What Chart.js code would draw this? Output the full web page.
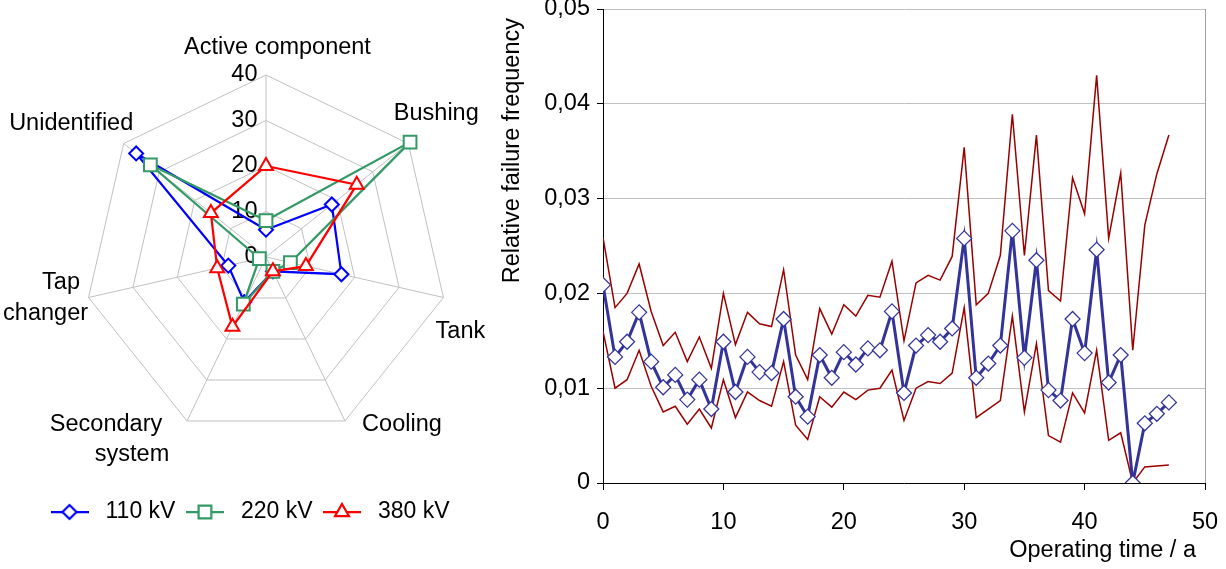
<!DOCTYPE html>
<html>
<head>
<meta charset="utf-8">
<script src="https://cdn.jsdelivr.net/npm/chart.js@4.4.1/dist/chart.umd.min.js"></script>
<style>
  html, body { margin: 0; padding: 0; background: #fff; overflow: hidden; }
  #radar { position: absolute; left: 0; top: 0; }
  #trend { position: absolute; left: 480px; top: 0; }
</style>
</head>
<body>
<canvas id="radar" width="500" height="569"></canvas>
<canvas id="trend" width="746" height="569"></canvas>
<script>
// ---- radar: failure location per voltage level (%) ----
const components = ['Active component', 'Bushing', 'Tank', 'Cooling', ['Secondary', 'system'], ['Tap', 'changer'], 'Unidentified'];
const share110 = [6, 18.5, 17, 3.5, 11, 8.5, 36.5];
const share220 = [8, 40.5, 5.5, 3.5, 11.5, 1.5, 32.5];
const share380 = [20, 25.5, 9, 3.5, 17, 11, 15.5];
const radarTicks = [0, 10, 20, 30, 40];
const voltageLabels = ['110 kV', '220 kV', '380 kV'];

// ---- relative failure frequency vs operating time ----
const years = [0, 1, 2, 3, 4, 5, 6, 7, 8, 9, 10, 11, 12, 13, 14, 15, 16, 17, 18, 19, 20, 21, 22, 23,
  24, 25, 26, 27, 28, 29, 30, 31, 32, 33, 34, 35, 36, 37, 38, 39, 40, 41, 42, 43, 44, 45, 46, 47];
const freqMean = [0.0209, 0.0133, 0.0149, 0.0180, 0.0128, 0.0101, 0.0114, 0.0088, 0.0109, 0.0078,
  0.0149, 0.0096, 0.0133, 0.0117, 0.0116, 0.0173, 0.0091, 0.0070, 0.0135, 0.0111,
  0.0138, 0.0125, 0.0142, 0.0140, 0.0181, 0.0095, 0.0145, 0.0156, 0.0149, 0.0163,
  0.0258, 0.0111, 0.0126, 0.0145, 0.0266, 0.0132, 0.0235, 0.0098, 0.0087, 0.0173,
  0.0137, 0.0246, 0.0106, 0.0135, 0.0000, 0.0063, 0.0073, 0.0085];
const freqUpper = [0.0259, 0.0185, 0.0200, 0.0231, 0.0181, 0.0145, 0.0159, 0.0128, 0.0154, 0.0121,
  0.0200, 0.0146, 0.0180, 0.0168, 0.0165, 0.0225, 0.0135, 0.0109, 0.0184, 0.0157,
  0.0188, 0.0176, 0.0198, 0.0196, 0.0234, 0.0150, 0.0211, 0.0219, 0.0214, 0.0239,
  0.0354, 0.0188, 0.0200, 0.0240, 0.0389, 0.0240, 0.0367, 0.0203, 0.0192, 0.0322,
  0.0284, 0.0430, 0.0258, 0.0327, 0.0140, 0.0272, 0.0326, 0.0367];
const freqLower = [0.0160, 0.0100, 0.0109, 0.0140, 0.0102, 0.0075, 0.0081, 0.0062, 0.0078, 0.0058,
  0.0109, 0.0069, 0.0096, 0.0087, 0.0081, 0.0128, 0.0061, 0.0046, 0.0091, 0.0080,
  0.0096, 0.0088, 0.0098, 0.0100, 0.0119, 0.0066, 0.0100, 0.0107, 0.0105, 0.0116,
  0.0185, 0.0069, 0.0078, 0.0087, 0.0176, 0.0075, 0.0147, 0.0050, 0.0043, 0.0095,
  0.0074, 0.0140, 0.0045, 0.0053, 0.0000, 0.0017, 0.0018, 0.0019];
const yTickLabels = ['0', '0,01', '0,02', '0,03', '0,04', '0,05'];
const xTitle = 'Operating time / a';
const yTitle = 'Relative failure frequency';

const FONT = '"Liberation Sans", Arial, sans-serif';
const FSIZE = 23.5;
Chart.defaults.font.family = FONT;
Chart.defaults.font.size = FSIZE;
Chart.defaults.color = '#000';

// legend symbol: short line with the marker in the middle
function legendIcon(color, style, radius) {
  const c = document.createElement('canvas');
  c.width = 38; c.height = 22;
  const g = c.getContext('2d');
  g.strokeStyle = color;
  g.lineWidth = 2.25;
  g.beginPath(); g.moveTo(0, 11); g.lineTo(38, 11); g.stroke();
  g.fillStyle = '#fff';
  Chart.helpers.drawPoint(g, { pointStyle: style, radius: radius, rotation: 0, borderWidth: 2 }, 19, 11);
  return c;
}

// offsets of the category captions from the outer vertex (like the Excel layout)
const labelOffsets = [
  [[11.5, -27]],
  [[28, -30]],
  [[17, 34]],
  [[57, 4]],
  [[-81, 4], [-55, 34]],
  [[-27.5, -14.5], [-43, 16]],
  [[-52.5, -20]]
];

const radarLabels = {
  id: 'radarLabels',
  beforeDatasetsDraw(chart) {
    const r = chart.scales.r;
    const ctx = chart.ctx;
    ctx.save();
    ctx.font = FSIZE + 'px ' + FONT;
    ctx.fillStyle = '#000';
    ctx.textBaseline = 'middle';
    ctx.textAlign = 'right';
    radarTicks.forEach(v => {
      ctx.fillText(String(v), r.xCenter - 8.5, r.yCenter - r.getDistanceFromCenterForValue(v));
    });
    ctx.textAlign = 'center';
    chart.data.labels.forEach((lab, i) => {
      const p = r.getPointPosition(i, r.drawingArea);
      [].concat(lab).forEach((line, j) => {
        const [dx, dy] = labelOffsets[i][j];
        ctx.fillText(line, p.x + dx, p.y + dy);
      });
    });
    ctx.restore();
  }
};

new Chart(document.getElementById('radar'), {
  type: 'radar',
  data: {
    labels: components,
    datasets: [
      { label: voltageLabels[0], data: share110, borderColor: '#0000ff', pointBorderColor: '#0000ff',
        pointBackgroundColor: '#fff', pointStyle: 'rectRot', pointRadius: 7, order: 3 },
      { label: voltageLabels[1], data: share220, borderColor: '#339966', pointBorderColor: '#339966',
        pointBackgroundColor: '#fff', pointStyle: 'rect', pointRadius: 9, order: 2 },
      { label: voltageLabels[2], data: share380, borderColor: '#ff0000', pointBorderColor: '#ff0000',
        pointBackgroundColor: '#fff', pointStyle: 'triangle', pointRadius: 8, order: 1 }
    ]
  },
  options: {
    responsive: false,
    animation: false,
    layout: { padding: { left: 40, right: 7, top: 75, bottom: 35.5 } },
    elements: {
      line: { borderWidth: 2.25, fill: false, tension: 0 },
      point: { borderWidth: 2, hoverRadius: 7 }
    },
    scales: {
      r: {
        min: 0, max: 40,
        ticks: { display: false, stepSize: 10 },
        pointLabels: { display: false },
        grid: { color: '#c0c0c0', lineWidth: 1 },
        angleLines: { color: '#c0c0c0', lineWidth: 1 }
      }
    },
    plugins: {
      tooltip: { enabled: false },
      legend: {
        position: 'bottom',
        align: 'start',
        title: { display: true, text: '', font: { size: 10, lineHeight: 1 }, padding: { top: 46.5, bottom: 0 } },
        labels: {
          usePointStyle: true,
          pointStyleWidth: 49,
          padding: 5,
          color: '#000',
          font: { size: 23 },
          generateLabels: chart => chart.data.datasets.map((ds, i) => ({
            text: ds.label,
            pointStyle: legendIcon(ds.borderColor, ds.pointStyle, ds.pointRadius),
            datasetIndex: i,
            hidden: false,
            lineWidth: 0,
            fontColor: '#000'
          }))
        }
      }
    }
  },
  plugins: [radarLabels]
});

// axis titles placed like the original (y title from the top, x title at the right end)
const axisTitles = {
  id: 'axisTitles',
  afterDraw(chart) {
    const { ctx, chartArea } = chart;
    ctx.save();
    ctx.font = FSIZE + 'px ' + FONT;
    ctx.fillStyle = '#000';
    ctx.textBaseline = 'middle';
    ctx.textAlign = 'right';
    ctx.fillText(xTitle, chartArea.right - 9, 551);
    ctx.translate(chart.scales.y.left + 33, chartArea.top + 9);
    ctx.rotate(-Math.PI / 2);
    ctx.fillText(yTitle, 0, 0);
    ctx.restore();
  }
};

const toPoints = arr => years.map((t, i) => ({ x: t, y: arr[i] }));

new Chart(document.getElementById('trend'), {
  type: 'line',
  data: {
    datasets: [
      { label: 'mean', data: toPoints(freqMean), borderColor: '#333399', borderWidth: 3,
        pointStyle: 'rectRot', pointRadius: 7.5, pointBackgroundColor: '#fff',
        pointBorderColor: '#333399', pointBorderWidth: 1.25 },
      { label: 'upper', data: toPoints(freqUpper), borderColor: '#990000', borderWidth: 1.5, pointRadius: 0 },
      { label: 'lower', data: toPoints(freqLower), borderColor: '#990000', borderWidth: 1.5, pointRadius: 0 }
    ]
  },
  options: {
    responsive: false,
    animation: false,
    layout: { padding: { left: 0, right: 21, top: 9, bottom: 0 } },
    elements: { line: { tension: 0, fill: false } },
    plugins: { legend: { display: false }, tooltip: { enabled: false } },
    scales: {
      x: {
        type: 'linear', min: 0, max: 50,
        ticks: { stepSize: 10, maxRotation: 0, padding: 18, color: '#000' },
        grid: {
          color: c => (c.tick && c.tick.value === 50) ? '#a0a0a0' : 'rgba(0,0,0,0)',
          tickColor: '#000', tickLength: 7, lineWidth: 1
        },
        border: { color: '#000', width: 1 },
        afterFit(s) { s.height = 86; s.paddingLeft = 0; s.paddingRight = 0; }
      },
      y: {
        min: 0, max: 0.05,
        ticks: { stepSize: 0.01, padding: 7, color: '#000',
          callback: v => yTickLabels[Math.round(v / 0.01)] },
        grid: { color: '#c0c0c0', tickColor: '#000', tickLength: 6, lineWidth: 1 },
        border: { color: '#000', width: 1 },
        afterFit(s) { s.width = 123; s.paddingTop = 0; s.paddingBottom = 0; }
      }
    }
  },
  plugins: [axisTitles]
});
</script>
</body>
</html>
